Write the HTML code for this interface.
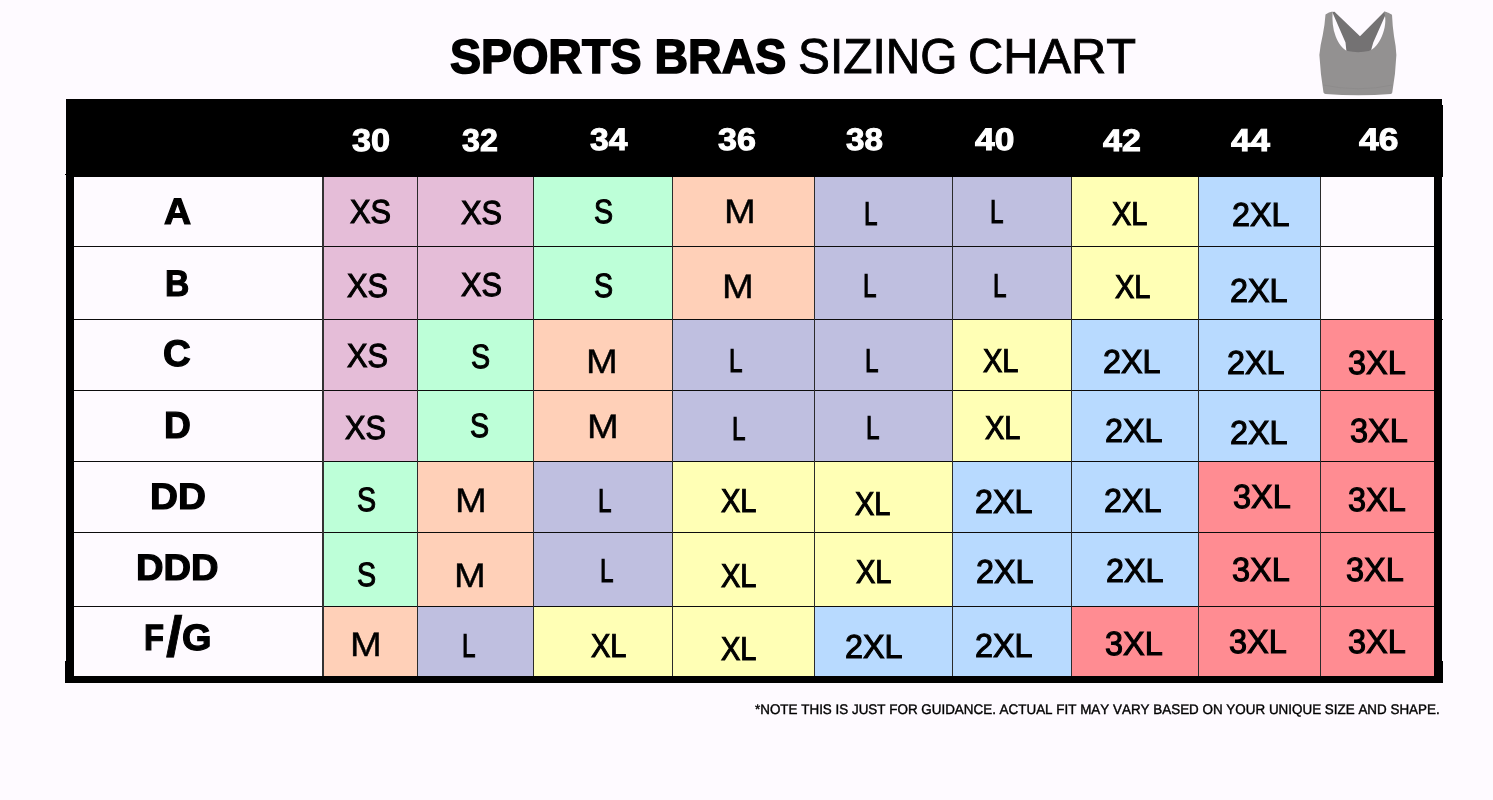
<!DOCTYPE html>
<html lang="en">
<head>
<meta charset="utf-8">
<title>Sports Bras Sizing Chart</title>
<style>
html,body{margin:0;padding:0}
body{width:1493px;height:800px;overflow:hidden;position:relative;background:#fefaff;
 font-family:"Liberation Sans",sans-serif;color:#000;font-kerning:none}
.t{position:absolute;line-height:1;text-rendering:geometricPrecision;white-space:nowrap;transform-origin:0 0;margin:0;padding:0;font-weight:400}
.b{font-weight:700}
h1{margin:0;font-size:inherit;font-weight:inherit}
.chart{position:absolute;left:0;top:0;width:1493px;height:800px}
.blk{position:absolute;background:#000}
.c{position:absolute}
.v{position:absolute;background:#2b2b2b;width:1px}
.h{position:absolute;background:#0c0c0c;height:1px}
.hd{color:#fff;font-weight:700}
.note{-webkit-text-stroke:0.4px #000}
</style>
</head>
<body>

<h1><span class="t b" style="left:449.56px;top:33.00px;font-size:48.16px;transform:scaleX(0.9671);-webkit-text-stroke:1.60px currentColor;">SPORTS BRAS</span> <span class="t " style="left:797.98px;top:33.00px;font-size:49.15px;transform:scaleX(0.9731);-webkit-text-stroke:0.90px currentColor;">SIZING</span> <span class="t " style="left:967.57px;top:33.00px;font-size:49.15px;transform:scaleX(0.9923);-webkit-text-stroke:0.90px currentColor;">CHART</span></h1>
<svg class="c" style="left:1310px;top:5px" width="100" height="100" viewBox="0 0 800 800" aria-label="sports bra">
<path d="M178 56 L196 54 L400 250 L594 54 L614 56 L506 300 L482 386 L293 386 L284 300 Z" fill="#747273"/>
<path d="M124 76 Q150 56 181 51 C176 120 182 190 205 250 C228 310 262 355 300 368 Q385 386 470 368 C515 352 548 310 575 250 C600 190 614 120 592 51 Q630 56 656 78 Q660 170 672 250 Q688 330 691 400 Q684 560 658 700 Q656 710 646 712 Q390 732 124 712 Q112 710 108 700 Q84 560 75 400 Q82 320 102 240 Q118 160 124 76 Z" fill="#939191"/>
<path d="M104 640 Q390 700 662 640" fill="none" stroke="#8a8888" stroke-width="5"/>
</svg>
<div class="chart">
<div class="c" style="left:322px;top:177px;width:95px;height:69px;background:#e5bdd8"></div>
<div class="c" style="left:417px;top:177px;width:116px;height:69px;background:#e5bdd8"></div>
<div class="c" style="left:533px;top:177px;width:139px;height:69px;background:#bdffd8"></div>
<div class="c" style="left:672px;top:177px;width:142px;height:69px;background:#ffd0b8"></div>
<div class="c" style="left:814px;top:177px;width:138px;height:69px;background:#bfbfe0"></div>
<div class="c" style="left:952px;top:177px;width:119px;height:69px;background:#bfbfe0"></div>
<div class="c" style="left:1071px;top:177px;width:127px;height:69px;background:#ffffb5"></div>
<div class="c" style="left:1198px;top:177px;width:122px;height:69px;background:#b8daff"></div>
<div class="c" style="left:322px;top:246px;width:95px;height:73px;background:#e5bdd8"></div>
<div class="c" style="left:417px;top:246px;width:116px;height:73px;background:#e5bdd8"></div>
<div class="c" style="left:533px;top:246px;width:139px;height:73px;background:#bdffd8"></div>
<div class="c" style="left:672px;top:246px;width:142px;height:73px;background:#ffd0b8"></div>
<div class="c" style="left:814px;top:246px;width:138px;height:73px;background:#bfbfe0"></div>
<div class="c" style="left:952px;top:246px;width:119px;height:73px;background:#bfbfe0"></div>
<div class="c" style="left:1071px;top:246px;width:127px;height:73px;background:#ffffb5"></div>
<div class="c" style="left:1198px;top:246px;width:122px;height:73px;background:#b8daff"></div>
<div class="c" style="left:322px;top:319px;width:95px;height:71px;background:#e5bdd8"></div>
<div class="c" style="left:417px;top:319px;width:116px;height:71px;background:#bdffd8"></div>
<div class="c" style="left:533px;top:319px;width:139px;height:71px;background:#ffd0b8"></div>
<div class="c" style="left:672px;top:319px;width:142px;height:71px;background:#bfbfe0"></div>
<div class="c" style="left:814px;top:319px;width:138px;height:71px;background:#bfbfe0"></div>
<div class="c" style="left:952px;top:319px;width:119px;height:71px;background:#ffffb5"></div>
<div class="c" style="left:1071px;top:319px;width:127px;height:71px;background:#b8daff"></div>
<div class="c" style="left:1198px;top:319px;width:122px;height:71px;background:#b8daff"></div>
<div class="c" style="left:1320px;top:319px;width:114px;height:71px;background:#ff8c92"></div>
<div class="c" style="left:322px;top:390px;width:95px;height:71px;background:#e5bdd8"></div>
<div class="c" style="left:417px;top:390px;width:116px;height:71px;background:#bdffd8"></div>
<div class="c" style="left:533px;top:390px;width:139px;height:71px;background:#ffd0b8"></div>
<div class="c" style="left:672px;top:390px;width:142px;height:71px;background:#bfbfe0"></div>
<div class="c" style="left:814px;top:390px;width:138px;height:71px;background:#bfbfe0"></div>
<div class="c" style="left:952px;top:390px;width:119px;height:71px;background:#ffffb5"></div>
<div class="c" style="left:1071px;top:390px;width:127px;height:71px;background:#b8daff"></div>
<div class="c" style="left:1198px;top:390px;width:122px;height:71px;background:#b8daff"></div>
<div class="c" style="left:1320px;top:390px;width:114px;height:71px;background:#ff8c92"></div>
<div class="c" style="left:322px;top:461px;width:95px;height:71px;background:#bdffd8"></div>
<div class="c" style="left:417px;top:461px;width:116px;height:71px;background:#ffd0b8"></div>
<div class="c" style="left:533px;top:461px;width:139px;height:71px;background:#bfbfe0"></div>
<div class="c" style="left:672px;top:461px;width:142px;height:71px;background:#ffffb5"></div>
<div class="c" style="left:814px;top:461px;width:138px;height:71px;background:#ffffb5"></div>
<div class="c" style="left:952px;top:461px;width:119px;height:71px;background:#b8daff"></div>
<div class="c" style="left:1071px;top:461px;width:127px;height:71px;background:#b8daff"></div>
<div class="c" style="left:1198px;top:461px;width:122px;height:71px;background:#ff8c92"></div>
<div class="c" style="left:1320px;top:461px;width:114px;height:71px;background:#ff8c92"></div>
<div class="c" style="left:322px;top:532px;width:95px;height:74px;background:#bdffd8"></div>
<div class="c" style="left:417px;top:532px;width:116px;height:74px;background:#ffd0b8"></div>
<div class="c" style="left:533px;top:532px;width:139px;height:74px;background:#bfbfe0"></div>
<div class="c" style="left:672px;top:532px;width:142px;height:74px;background:#ffffb5"></div>
<div class="c" style="left:814px;top:532px;width:138px;height:74px;background:#ffffb5"></div>
<div class="c" style="left:952px;top:532px;width:119px;height:74px;background:#b8daff"></div>
<div class="c" style="left:1071px;top:532px;width:127px;height:74px;background:#b8daff"></div>
<div class="c" style="left:1198px;top:532px;width:122px;height:74px;background:#ff8c92"></div>
<div class="c" style="left:1320px;top:532px;width:114px;height:74px;background:#ff8c92"></div>
<div class="c" style="left:322px;top:606px;width:95px;height:70px;background:#ffd0b8"></div>
<div class="c" style="left:417px;top:606px;width:116px;height:70px;background:#bfbfe0"></div>
<div class="c" style="left:533px;top:606px;width:139px;height:70px;background:#ffffb5"></div>
<div class="c" style="left:672px;top:606px;width:142px;height:70px;background:#ffffb5"></div>
<div class="c" style="left:814px;top:606px;width:138px;height:70px;background:#b8daff"></div>
<div class="c" style="left:952px;top:606px;width:119px;height:70px;background:#b8daff"></div>
<div class="c" style="left:1071px;top:606px;width:127px;height:70px;background:#ff8c92"></div>
<div class="c" style="left:1198px;top:606px;width:122px;height:70px;background:#ff8c92"></div>
<div class="c" style="left:1320px;top:606px;width:114px;height:70px;background:#ff8c92"></div>
<div class="h" style="left:74px;top:246px;width:1360.0px"></div>
<div class="h" style="left:74px;top:319px;width:1368.9px"></div>
<div class="h" style="left:74px;top:390px;width:1360.0px"></div>
<div class="h" style="left:74px;top:461px;width:1360.0px"></div>
<div class="h" style="left:74px;top:532px;width:1360.0px"></div>
<div class="h" style="left:74px;top:606px;width:1360.0px"></div>
<div class="v" style="left:321.7px;top:177px;width:2.1px;height:499px;background:#333"></div>
<div class="v" style="left:417px;top:177px;height:499px"></div>
<div class="v" style="left:533px;top:177px;height:499px"></div>
<div class="v" style="left:672px;top:177px;height:499px"></div>
<div class="v" style="left:814px;top:177px;height:499px"></div>
<div class="v" style="left:952px;top:177px;height:499px"></div>
<div class="v" style="left:1071px;top:177px;height:499px"></div>
<div class="v" style="left:1198px;top:177px;height:499px"></div>
<div class="v" style="left:1320px;top:177px;height:499px"></div>
<div class="blk" style="left:66.2px;top:99px;width:1375.6px;height:7px"></div>
<div class="blk" style="left:66.2px;top:105px;width:1376.7px;height:71.8px"></div>
<div class="blk" style="left:65px;top:174px;width:2px;height:1px"></div>
<div class="blk" style="left:66px;top:176px;width:8.3px;height:506.7px"></div>
<div class="blk" style="left:1433.6px;top:176px;width:8.2px;height:506.7px"></div>
<div class="blk" style="left:65px;top:676px;width:1377.9px;height:6.75px"></div>
<div class="blk" style="left:65px;top:661px;width:2px;height:21.7px"></div>
<div class="blk" style="left:1440px;top:660.75px;width:2.9px;height:22px"></div>
<div class="hdr"><span class="t hd" style="left:352.01px;top:125.00px;font-size:31.57px;transform:scaleX(1.0846);-webkit-text-stroke:1.00px currentColor;">30</span> <span class="t hd" style="left:462.16px;top:125.00px;font-size:31.57px;transform:scaleX(1.0202);-webkit-text-stroke:1.00px currentColor;">32</span> <span class="t hd" style="left:590.33px;top:124.00px;font-size:31.15px;transform:scaleX(1.0810);-webkit-text-stroke:1.00px currentColor;">34</span> <span class="t hd" style="left:718.22px;top:124.00px;font-size:31.15px;transform:scaleX(1.0943);-webkit-text-stroke:1.00px currentColor;">36</span> <span class="t hd" style="left:846.34px;top:124.00px;font-size:31.15px;transform:scaleX(1.0675);-webkit-text-stroke:1.00px currentColor;">38</span> <span class="t hd" style="left:974.97px;top:124.00px;font-size:31.21px;transform:scaleX(1.1314);-webkit-text-stroke:1.00px currentColor;">40</span> <span class="t hd" style="left:1102.79px;top:125.00px;font-size:31.08px;transform:scaleX(1.0927);-webkit-text-stroke:1.00px currentColor;">42</span> <span class="t hd" style="left:1230.97px;top:125.00px;font-size:31.54px;transform:scaleX(1.1093);-webkit-text-stroke:1.00px currentColor;">44</span> <span class="t hd" style="left:1358.76px;top:124.00px;font-size:31.21px;transform:scaleX(1.1353);-webkit-text-stroke:1.00px currentColor;">46</span></div>
<div class="rows">
<span class="t b" style="left:164.46px;top:194.00px;font-size:36.92px;transform:scaleX(1.0174);-webkit-text-stroke:1.20px currentColor;">A</span>
<span class="t b" style="left:165.45px;top:265.00px;font-size:37.06px;transform:scaleX(0.9069);-webkit-text-stroke:1.20px currentColor;">B</span>
<span class="t b" style="left:163.03px;top:335.00px;font-size:37.01px;transform:scaleX(1.0374);-webkit-text-stroke:1.20px currentColor;">C</span>
<span class="t b" style="left:164.41px;top:407.00px;font-size:37.50px;transform:scaleX(0.9914);-webkit-text-stroke:1.20px currentColor;">D</span>
<span class="t b" style="left:149.71px;top:479.00px;font-size:36.92px;transform:scaleX(1.0486);-webkit-text-stroke:1.20px currentColor;">DD</span>
<span class="t b" style="left:135.95px;top:550.00px;font-size:36.77px;transform:scaleX(1.0374);-webkit-text-stroke:1.20px currentColor;">DDD</span>
<div class="rl"><span class="t b" style="left:144.21px;top:620.00px;font-size:36.63px;transform:scaleX(0.8933);-webkit-text-stroke:1.20px currentColor;">F</span><span class="t b" style="left:165.72px;top:609.00px;font-size:56.54px;transform:scaleX(1.0477);-webkit-text-stroke:0.80px currentColor;">/</span><span class="t b" style="left:182.34px;top:620.00px;font-size:36.72px;transform:scaleX(1.0331);-webkit-text-stroke:1.20px currentColor;">G</span></div>
</div>
<div class="cells">
<span class="t " style="left:350.06px;top:196.00px;font-size:33.19px;transform:scaleX(0.9260);-webkit-text-stroke:1.10px currentColor;">XS</span>
<span class="t " style="left:461.46px;top:197.00px;font-size:33.19px;transform:scaleX(0.9260);-webkit-text-stroke:1.10px currentColor;">XS</span>
<span class="t " style="left:593.95px;top:196.00px;font-size:33.76px;transform:scaleX(0.8491);-webkit-text-stroke:1.10px currentColor;">S</span>
<span class="t " style="left:723.52px;top:195.00px;font-size:34.01px;transform:scaleX(1.1208);-webkit-text-stroke:0.40px currentColor;">M</span>
<span class="t " style="left:864.46px;top:198.00px;font-size:32.85px;transform:scaleX(0.7388);-webkit-text-stroke:1.20px currentColor;">L</span>
<span class="t " style="left:990.26px;top:196.00px;font-size:32.85px;transform:scaleX(0.7388);-webkit-text-stroke:1.20px currentColor;">L</span>
<span class="t " style="left:1112.20px;top:197.00px;font-size:32.99px;transform:scaleX(0.8800);-webkit-text-stroke:1.10px currentColor;">XL</span>
<span class="t " style="left:1231.52px;top:199.00px;font-size:33.23px;transform:scaleX(0.9744);-webkit-text-stroke:1.10px currentColor;">2XL</span>
<span class="t " style="left:347.16px;top:270.00px;font-size:33.19px;transform:scaleX(0.9260);-webkit-text-stroke:1.10px currentColor;">XS</span>
<span class="t " style="left:461.06px;top:269.00px;font-size:33.19px;transform:scaleX(0.9260);-webkit-text-stroke:1.10px currentColor;">XS</span>
<span class="t " style="left:593.95px;top:270.00px;font-size:33.76px;transform:scaleX(0.8491);-webkit-text-stroke:1.10px currentColor;">S</span>
<span class="t " style="left:721.52px;top:270.00px;font-size:34.01px;transform:scaleX(1.1208);-webkit-text-stroke:0.40px currentColor;">M</span>
<span class="t " style="left:863.26px;top:270.00px;font-size:32.85px;transform:scaleX(0.7388);-webkit-text-stroke:1.20px currentColor;">L</span>
<span class="t " style="left:992.96px;top:270.00px;font-size:32.85px;transform:scaleX(0.7388);-webkit-text-stroke:1.20px currentColor;">L</span>
<span class="t " style="left:1115.20px;top:270.00px;font-size:32.99px;transform:scaleX(0.8800);-webkit-text-stroke:1.10px currentColor;">XL</span>
<span class="t " style="left:1229.52px;top:275.00px;font-size:33.23px;transform:scaleX(0.9744);-webkit-text-stroke:1.10px currentColor;">2XL</span>
<span class="t " style="left:347.16px;top:340.00px;font-size:33.19px;transform:scaleX(0.9260);-webkit-text-stroke:1.10px currentColor;">XS</span>
<span class="t " style="left:471.05px;top:341.00px;font-size:33.76px;transform:scaleX(0.8491);-webkit-text-stroke:1.10px currentColor;">S</span>
<span class="t " style="left:585.52px;top:345.00px;font-size:34.01px;transform:scaleX(1.1208);-webkit-text-stroke:0.40px currentColor;">M</span>
<span class="t " style="left:729.16px;top:345.00px;font-size:32.85px;transform:scaleX(0.7388);-webkit-text-stroke:1.20px currentColor;">L</span>
<span class="t " style="left:865.26px;top:345.00px;font-size:32.85px;transform:scaleX(0.7388);-webkit-text-stroke:1.20px currentColor;">L</span>
<span class="t " style="left:983.40px;top:344.00px;font-size:32.99px;transform:scaleX(0.8800);-webkit-text-stroke:1.10px currentColor;">XL</span>
<span class="t " style="left:1102.52px;top:346.00px;font-size:33.23px;transform:scaleX(0.9744);-webkit-text-stroke:1.10px currentColor;">2XL</span>
<span class="t " style="left:1227.22px;top:347.00px;font-size:33.23px;transform:scaleX(0.9744);-webkit-text-stroke:1.10px currentColor;">2XL</span>
<span class="t " style="left:1348.01px;top:347.00px;font-size:33.47px;transform:scaleX(0.9707);-webkit-text-stroke:1.10px currentColor;">3XL</span>
<span class="t " style="left:344.76px;top:412.00px;font-size:33.19px;transform:scaleX(0.9260);-webkit-text-stroke:1.10px currentColor;">XS</span>
<span class="t " style="left:469.95px;top:410.00px;font-size:33.76px;transform:scaleX(0.8491);-webkit-text-stroke:1.10px currentColor;">S</span>
<span class="t " style="left:587.02px;top:410.00px;font-size:34.01px;transform:scaleX(1.1208);-webkit-text-stroke:0.40px currentColor;">M</span>
<span class="t " style="left:731.96px;top:413.00px;font-size:32.85px;transform:scaleX(0.7388);-webkit-text-stroke:1.20px currentColor;">L</span>
<span class="t " style="left:866.06px;top:412.00px;font-size:32.85px;transform:scaleX(0.7388);-webkit-text-stroke:1.20px currentColor;">L</span>
<span class="t " style="left:985.00px;top:411.00px;font-size:32.99px;transform:scaleX(0.8800);-webkit-text-stroke:1.10px currentColor;">XL</span>
<span class="t " style="left:1105.32px;top:415.00px;font-size:33.23px;transform:scaleX(0.9744);-webkit-text-stroke:1.10px currentColor;">2XL</span>
<span class="t " style="left:1230.32px;top:417.00px;font-size:33.23px;transform:scaleX(0.9744);-webkit-text-stroke:1.10px currentColor;">2XL</span>
<span class="t " style="left:1349.81px;top:415.00px;font-size:33.47px;transform:scaleX(0.9707);-webkit-text-stroke:1.10px currentColor;">3XL</span>
<span class="t " style="left:356.85px;top:484.00px;font-size:33.76px;transform:scaleX(0.8491);-webkit-text-stroke:1.10px currentColor;">S</span>
<span class="t " style="left:455.32px;top:484.00px;font-size:34.01px;transform:scaleX(1.1208);-webkit-text-stroke:0.40px currentColor;">M</span>
<span class="t " style="left:598.26px;top:485.00px;font-size:32.85px;transform:scaleX(0.7388);-webkit-text-stroke:1.20px currentColor;">L</span>
<span class="t " style="left:721.30px;top:484.00px;font-size:32.99px;transform:scaleX(0.8800);-webkit-text-stroke:1.10px currentColor;">XL</span>
<span class="t " style="left:855.30px;top:487.00px;font-size:32.99px;transform:scaleX(0.8800);-webkit-text-stroke:1.10px currentColor;">XL</span>
<span class="t " style="left:975.22px;top:486.00px;font-size:33.23px;transform:scaleX(0.9744);-webkit-text-stroke:1.10px currentColor;">2XL</span>
<span class="t " style="left:1104.22px;top:485.00px;font-size:33.23px;transform:scaleX(0.9744);-webkit-text-stroke:1.10px currentColor;">2XL</span>
<span class="t " style="left:1232.81px;top:481.00px;font-size:33.47px;transform:scaleX(0.9707);-webkit-text-stroke:1.10px currentColor;">3XL</span>
<span class="t " style="left:1347.91px;top:484.00px;font-size:33.47px;transform:scaleX(0.9707);-webkit-text-stroke:1.10px currentColor;">3XL</span>
<span class="t " style="left:356.85px;top:559.00px;font-size:33.76px;transform:scaleX(0.8491);-webkit-text-stroke:1.10px currentColor;">S</span>
<span class="t " style="left:454.42px;top:559.00px;font-size:34.01px;transform:scaleX(1.1208);-webkit-text-stroke:0.40px currentColor;">M</span>
<span class="t " style="left:599.66px;top:555.00px;font-size:32.85px;transform:scaleX(0.7388);-webkit-text-stroke:1.20px currentColor;">L</span>
<span class="t " style="left:721.30px;top:559.00px;font-size:32.99px;transform:scaleX(0.8800);-webkit-text-stroke:1.10px currentColor;">XL</span>
<span class="t " style="left:856.20px;top:555.00px;font-size:32.99px;transform:scaleX(0.8800);-webkit-text-stroke:1.10px currentColor;">XL</span>
<span class="t " style="left:975.92px;top:556.00px;font-size:33.23px;transform:scaleX(0.9744);-webkit-text-stroke:1.10px currentColor;">2XL</span>
<span class="t " style="left:1106.22px;top:555.00px;font-size:33.23px;transform:scaleX(0.9744);-webkit-text-stroke:1.10px currentColor;">2XL</span>
<span class="t " style="left:1232.01px;top:554.00px;font-size:33.47px;transform:scaleX(0.9707);-webkit-text-stroke:1.10px currentColor;">3XL</span>
<span class="t " style="left:1345.71px;top:554.00px;font-size:33.47px;transform:scaleX(0.9707);-webkit-text-stroke:1.10px currentColor;">3XL</span>
<span class="t " style="left:349.52px;top:628.00px;font-size:34.01px;transform:scaleX(1.1208);-webkit-text-stroke:0.40px currentColor;">M</span>
<span class="t " style="left:461.56px;top:630.00px;font-size:32.85px;transform:scaleX(0.7388);-webkit-text-stroke:1.20px currentColor;">L</span>
<span class="t " style="left:590.70px;top:629.00px;font-size:32.99px;transform:scaleX(0.8800);-webkit-text-stroke:1.10px currentColor;">XL</span>
<span class="t " style="left:721.40px;top:632.00px;font-size:32.99px;transform:scaleX(0.8800);-webkit-text-stroke:1.10px currentColor;">XL</span>
<span class="t " style="left:844.52px;top:631.00px;font-size:33.23px;transform:scaleX(0.9744);-webkit-text-stroke:1.10px currentColor;">2XL</span>
<span class="t " style="left:974.92px;top:630.00px;font-size:33.23px;transform:scaleX(0.9744);-webkit-text-stroke:1.10px currentColor;">2XL</span>
<span class="t " style="left:1104.81px;top:628.00px;font-size:33.47px;transform:scaleX(0.9707);-webkit-text-stroke:1.10px currentColor;">3XL</span>
<span class="t " style="left:1229.01px;top:626.00px;font-size:33.47px;transform:scaleX(0.9707);-webkit-text-stroke:1.10px currentColor;">3XL</span>
<span class="t " style="left:1347.51px;top:626.00px;font-size:33.47px;transform:scaleX(0.9707);-webkit-text-stroke:1.10px currentColor;">3XL</span>
</div>
</div>
<p class="t note" style="left:755.40px;top:703.00px;font-size:13.95px;transform:scaleX(0.9631)">*NOTE THIS IS JUST FOR GUIDANCE. ACTUAL FIT MAY VARY BASED ON YOUR UNIQUE SIZE AND SHAPE.</p>
</body>
</html>
